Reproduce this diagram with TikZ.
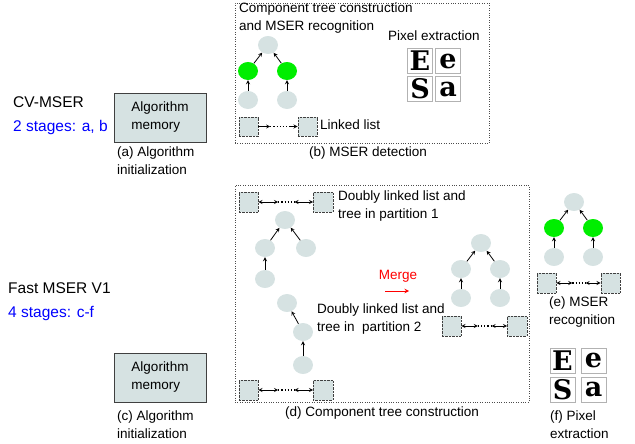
\documentclass[tikz,border=0pt]{standalone}
\usepackage{fontspec}
\setmainfont{Liberation Sans}
\newfontfamily\glyphfont{DejaVu Serif}
\usetikzlibrary{shapes.geometric}
\definecolor{cellgray}{HTML}{D6E2E2}
\definecolor{mserfill}{HTML}{00EE00}
\begin{document}
\begin{tikzpicture}[x=1pt, y=-1pt, >=stealth,
  every node/.style={font=\fontsize{13.5}{18}\selectfont},
  txt/.style={anchor=west, inner sep=0pt, align=left},
  big/.style={txt, font=\fontsize{15.5}{18}\selectfont},
  comp/.style={ellipse, fill=cellgray, minimum width=20, minimum height=18, inner sep=0pt},
  mser/.style={comp, fill=mserfill},
  cell/.style={draw=black!75, densely dotted, fill=cellgray, minimum size=19.5, inner sep=0pt},
  stage/.style={draw=black!70, dotted, inner sep=0pt},
  mem/.style={draw=black!75, line width=0.8pt, fill=cellgray, minimum width=92, minimum height=49, align=left},
  glyph/.style={draw=black!30, minimum width=25, minimum height=25, inner sep=0pt, font=\glyphfont\bfseries\fontsize{27}{27}\selectfont},
  link/.style={line width=0.8pt}]
\useasboundingbox (0,0) rectangle (635,444);

% CV-MSER
\node[big] (cv) at (13,102) {CV-MSER};
\node[big, text=blue] (cvst) at (13,127) {2 stages: a, b};
\node[mem] (mema) at (160,117.5) {Algorithm\\memory};
\node[txt] (capa) at (117,161) {(a) Algorithm\\initialization};

\node[stage, minimum width=254, minimum height=140] (boxb) at (362,73) {};
\node (capb) at (368,153) {(b) MSER detection};
\node[txt] (tb) at (239,18) {Component tree construction\\and MSER recognition};
\node (bt) at (268,45) [comp] {};
\node (bg1) at (248,71) [mser] {};
\node (bg2) at (287,71) [mser] {};
\node (bl1) at (248,100) [comp] {};
\node (bl2) at (287,100) [comp] {};
\node (bsa) at (248.5,126.5) [cell] {};
\node (bsb) at (307.5,126.5) [cell] {};
\node[txt] (ll) at (320,125) {Linked list};
\draw[->, link] (bl1) -- (bg1);
\draw[->, link] (bl2) -- (bg2);
\draw[->, link] (bg1) -- (bt);
\draw[->, link] (bg2) -- (bt);
\path (bsa.east) -- (bsb.west) coordinate[pos=0.3] (bm1) coordinate[pos=0.82] (bm2);
\draw[->, link] (bsa) -- (bm1);
\draw[dotted, line width=1.2pt] (bm1) -- (bm2);
\draw[->, link] (bm2) -- (bsb);

\node (px) at (434,36) {Pixel extraction};
\node[glyph] (pE) at (420,61) {E};
\node[glyph] (pe) at (448,61) {e};
\node[glyph] (pS) at (420,89) {S};
\node[glyph] (pa) at (448,89) {a};

% Fast MSER V1
\node[big] (fm) at (8,288) {Fast MSER V1};
\node[big, text=blue] (fmst) at (8,313) {4 stages: c-f};
\node[mem] (memc) at (160,377.5) {Algorithm\\memory};
\node[txt] (capc) at (117,424.5) {(c) Algorithm\\initialization};

\node[stage, minimum width=294, minimum height=217] (boxd) at (382,293.5) {};
\node (capd) at (382,413) {(d) Component tree construction};

% partition 1
\node (p1a) at (248.5,202) [cell] {};
\node (p1b) at (323,202) [cell] {};
\node[txt] (tp1) at (338,206.5) {Doubly linked list and\\tree in partition 1};
\node (t1top) at (285,220) [comp] {};
\node (t1l) at (265,248) [comp] {};
\node (t1r) at (306,248) [comp] {};
\node (t1b) at (265,279) [comp] {};
\draw[->, link] (t1b) -- (t1l);
\draw[->, link] (t1l) -- (t1top);
\draw[->, link] (t1r) -- (t1top);

% partition 2
\node (t2top) at (287,303) [comp] {};
\node (t2m) at (303,332) [comp] {};
\node (t2b) at (303,365) [comp] {};
\draw[->, link] (t2b) -- (t2m);
\draw[->, link] (t2m) -- (t2top);
\node[txt] (tp2) at (317,319.5) {Doubly linked list and\\tree in~ partition 2};
\node (p2a) at (248.5,390) [cell] {};
\node (p2b) at (323,390) [cell] {};

% merge
\node[text=red] (mg) at (398,276) {Merge};
\coordinate (mgl) at (385,291);
\coordinate (mgr) at (409,291);
\draw[->, red, line width=1pt] (mgl) -- (mgr);

\node (mtop) at (481,243) [comp] {};
\node (ml) at (461,269) [comp] {};
\node (mr) at (500,269) [comp] {};
\node (mbl) at (461,298) [comp] {};
\node (mbr) at (500,298) [comp] {};
\node (msa) at (451.5,326) [cell] {};
\node (msb) at (517,326) [cell] {};
\draw[->, link] (mbl) -- (ml);
\draw[->, link] (mbr) -- (mr);
\draw[->, link] (ml) -- (mtop);
\draw[->, link] (mr) -- (mtop);

% (e) MSER recognition
\node (etop) at (574,202) [comp] {};
\node (eg1) at (554,228) [mser] {};
\node (eg2) at (593,228) [mser] {};
\node (el1) at (554,257) [comp] {};
\node (el2) at (593,257) [comp] {};
\node (esa) at (546.5,283) [cell] {};
\node (esb) at (610.5,283) [cell] {};
\draw[->, link] (el1) -- (eg1);
\draw[->, link] (el2) -- (eg2);
\draw[->, link] (eg1) -- (etop);
\draw[->, link] (eg2) -- (etop);
\node[txt] (cape) at (549,312.5) {(e) MSER\\recognition};

\foreach \a/\b in {p1a/p1b, p2a/p2b, msa/msb, esa/esb} {
  \path (\a.east) -- (\b.west) coordinate[pos=0.36] (\a m1) coordinate[pos=0.66] (\a m2);
  \draw[<->, link] (\a) -- (\a m1);
  \draw[dotted, line width=1.2pt] (\a m1) -- (\a m2);
  \draw[<->, link] (\a m2) -- (\b);
}

% (f) pixel extraction
\node[glyph] (fE) at (562.5,360.5) {E};
\node[glyph] (fe) at (593.5,360.5) {e};
\node[glyph] (fS) at (562.5,389.5) {S};
\node[glyph] (fa) at (593.5,389.5) {a};
\node[txt] (capf) at (550,424.5) {(f) Pixel\\extraction};
\end{tikzpicture}
\end{document}
